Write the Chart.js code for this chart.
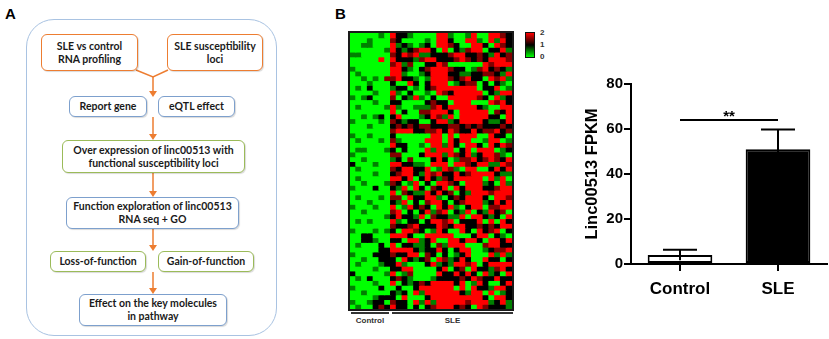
<!DOCTYPE html>
<html><head><meta charset="utf-8">
<script src="https://cdn.jsdelivr.net/npm/chart.js@4/dist/chart.umd.min.js"></script>
<style>
html,body{margin:0;padding:0;background:#fff;width:829px;height:339px;overflow:hidden;position:relative;font-family:'Liberation Sans',Arial,sans-serif}
.abs{position:absolute}
.plabel{position:absolute;font:bold 15px 'Liberation Sans',Arial,sans-serif;color:#000}
.outer{position:absolute;left:26px;top:19px;width:251px;height:317px;box-sizing:border-box;border:1.5px solid #a9c3e2;border-radius:28px}
.box{position:absolute;box-sizing:border-box;border:1.5px solid;border-radius:6px;background:#fff;display:flex;align-items:center;justify-content:center;text-align:center;font:bold 10.5px Lato,'Liberation Sans',sans-serif;line-height:13px;color:#1a1a1a;box-shadow:1px 1px 1px rgba(0,0,0,0.15)}
.or{border-color:#ed7d31}.bl{border-color:#7da0cd}.gr{border-color:#9bbb59}
.small{position:absolute;font:bold 8px 'Liberation Sans',Arial,sans-serif;color:#333}
</style></head>
<body>
<div class="plabel" style="left:5px;top:5px">A</div>
<div class="outer"></div>
<svg class="abs" style="left:0;top:0" width="300" height="339">
 <g stroke="#ed7d31" stroke-width="1.5" fill="none">
  <path d="M136 70 L153 77 L168 70"/>
  <path d="M153 77 L153 92"/>
  <path d="M153 117 L153 135"/>
  <path d="M153 173 L153 192"/>
  <path d="M153 229 L153 246"/>
  <path d="M153 272 L153 289"/>
 </g>
 <g fill="#ed7d31">
  <path d="M149 91 L157 91 L153 97 Z"/>
  <path d="M149 134 L157 134 L153 140 Z"/>
  <path d="M149 191 L157 191 L153 197 Z"/>
  <path d="M149 245 L157 245 L153 251 Z"/>
  <path d="M149 288 L157 288 L153 294 Z"/>
 </g>
</svg>
<div class="box or" style="left:41px;top:34px;width:97px;height:37px">SLE vs control<br>RNA profiling</div>
<div class="box or" style="left:167px;top:34px;width:96px;height:37px">SLE susceptibility<br>loci</div>
<div class="box bl" style="left:69px;top:96px;width:78px;height:21px">Report gene</div>
<div class="box bl" style="left:158px;top:96px;width:77px;height:21px">eQTL effect</div>
<div class="box gr" style="left:62px;top:140px;width:183px;height:33px">Over expression of linc00513 with<br>functional susceptibility loci</div>
<div class="box bl" style="left:66px;top:197px;width:173px;height:32px">Function exploration of linc00513<br>RNA seq + GO</div>
<div class="box gr" style="left:50px;top:251px;width:96px;height:21px">Loss-of-function</div>
<div class="box gr" style="left:158px;top:251px;width:96px;height:21px">Gain-of-function</div>
<div class="box bl" style="left:79px;top:294px;width:148px;height:32px">Effect on the key molecules<br>in pathway</div>

<div class="plabel" style="left:335px;top:5px">B</div>
<div class="abs" style="left:348px;top:31px;width:162px;height:276px;border:2px solid #1a1a1a"></div>
<canvas id="heat" class="abs" style="left:350px;top:33px" width="162" height="276"></canvas>
<div class="abs" id="cbar" style="left:525px;top:32px;width:8px;height:24px;border:1.5px solid #111;background:linear-gradient(to bottom,#ff0000 0%,#000 50%,#00ff00 100%)"></div>
<div id="cbticks"></div>
<div class="abs" style="left:351px;top:312px;width:38px;height:2px;background:#333"></div>
<div class="abs" style="left:392px;top:312px;width:121px;height:2px;background:#333"></div>
<div class="small" id="hg0" style="left:351px;top:316px;width:38px;text-align:center"></div>
<div class="small" id="hg1" style="left:392px;top:316px;width:121px;text-align:center"></div>

<canvas id="bar" class="abs" style="left:560px;top:60px" width="269" height="279"></canvas>

<script>
// ---------- Bar chart data ----------
const groups = ['Control', 'SLE'];
const means = [4.0, 51.0];
const sems = [2.3, 8.8];
const yTickMin = 0, yTickMax = 80, yTickStep = 20;
const yTitle = 'Linc00513 FPKM';
const sigLevel = 64;
const sigText = '**';

// ---------- Heatmap data (levels 0..4 -> value 0..2) ----------
const heatGroups = ['Control', 'SLE'];
const heatGroupSizes = [7, 21];
const colorbarTicks = ['2', '1', '0'];
const heatRows = [
"0000010422100004410014004432",
"0001000320000104420044104142",
"0011000412101204432004420432",
"0000001421234420402134402241",
"1100000324341122234422321423",
"0000040422213442223432324443",
"0000000341300224300000043444",
"1000000442102344432201342321",
"0100000441001244422112233214",
"0010103342210144432342204341",
"0001000200420244401233020210",
"0102000122010234444444022401",
"0000100410200104324444402144",
"1012000302141020044444320412",
"0000100220000232204440004342",
"0100001410011134244444210044",
"0000000402003344420444440324",
"0010120240001243140444442204",
"1000010321220024412444421124",
"0001000232323322233232322232",
"0000000344422334243224233423",
"1001000200000044040444004220",
"0100010310000444042440014401",
"0000000422001044142044204243",
"0110001202000414440240444012",
"1000000330002444143241244310",
"0010000120300024201334234324",
"2000100442211044404432441143",
"0100000324422401431044002424",
"0000100234421434224234444211",
"0100000442402421324444404140",
"0010001320140204432044412041",
"1000200214042032404244422344",
"0000000403211424230214443444",
"0100010330422441023244420443",
"0001000214020344202344412424",
"1000100401423204241024403344",
"0010000340202413402140214230",
"0000001242214032211404421204",
"0101000410220244340222404042",
"0000000322342224324422323244",
"1000101204432014200420423402",
"0022000444200444440002440210",
"0022100220441240044244204424",
"0100020402211203144400034422",
"0000022444421224202440012334",
"1000222322440320201240004141",
"0010022204212304312420042202",
"0100012241000241214434024444",
"0000100224400002402304221342",
"2000001401300004224242041204",
"0102000232100012222324322422",
"0000100402123244442401420024",
"1000020020024444440404221442",
"0010000212041444444214404012",
"0000122204000244444444420442",
"1001220322041414444434441241",
"0100232422020234442320432221"
];

Chart.defaults.font.family = "'Liberation Sans', Arial, sans-serif";
Chart.defaults.color = '#000';

function cellColor(level) {
  const v = level / 2;
  if (v <= 1) return 'rgb(0,' + Math.round(255 * (1 - v)) + ',0)';
  return 'rgb(' + Math.round(255 * (v - 1)) + ',0,0)';
}

// labels under heatmap and colorbar
document.getElementById('hg0').textContent = heatGroups[0];
document.getElementById('hg1').textContent = heatGroups[1];
(function(){
  const c = document.getElementById('cbticks');
  colorbarTicks.forEach((t, i) => {
    const d = document.createElement('div');
    d.className = 'small';
    d.style.left = '540px';
    d.style.top = (28 + i * 12) + 'px';
    d.textContent = t;
    c.appendChild(d);
  });
})();

// ---------- Heatmap ----------
const nCols = heatRows[0].length;
const heatLabels = Array.from({length: nCols}, (_, i) => String(i));
new Chart(document.getElementById('heat'), {
  type: 'bar',
  data: {
    labels: heatLabels,
    datasets: heatRows.map((row, ri) => ({
      label: 'row' + ri,
      data: row.split('').map(() => 1),
      backgroundColor: row.split('').map(ch => cellColor(+ch)),
      borderWidth: 0,
      barPercentage: 1,
      categoryPercentage: 1,
      inflateAmount: 0.5
    }))
  },
  options: {
    responsive: false, animation: false, devicePixelRatio: 1, events: [],
    layout: {padding: 0},
    plugins: {legend: {display: false}, tooltip: {enabled: false}},
    scales: {
      x: {stacked: true, display: false},
      y: {stacked: true, display: false, reverse: true, min: 0, max: heatRows.length}
    }
  }
});

// ---------- Bar chart ----------
const errPlugin = {
  id: 'errbars',
  afterDatasetsDraw(chart) {
    const {ctx, scales: {x, y}} = chart;
    ctx.save();
    ctx.strokeStyle = '#000';
    ctx.lineWidth = 2;
    means.forEach((m, i) => {
      const px = x.getPixelForValue(i);
      const top = y.getPixelForValue(m + sems[i]);
      const bot = y.getPixelForValue(m - sems[i]);
      ctx.beginPath();
      ctx.moveTo(px, bot); ctx.lineTo(px, top);
      ctx.moveTo(px - 17, top); ctx.lineTo(px + 17, top);
      ctx.stroke();
    });
    const sy = y.getPixelForValue(sigLevel);
    const x0 = x.getPixelForValue(0), x1 = x.getPixelForValue(1);
    ctx.beginPath(); ctx.moveTo(x0, sy); ctx.lineTo(x1, sy); ctx.stroke();
    ctx.fillStyle = '#000';
    ctx.font = "bold 15px 'Liberation Sans', Arial, sans-serif";
    ctx.textAlign = 'center';
    ctx.textBaseline = 'alphabetic';
    ctx.fillText(sigText, (x0 + x1) / 2, sy + 1);
    ctx.restore();
  }
};

new Chart(document.getElementById('bar'), {
  type: 'bar',
  data: {
    labels: groups,
    datasets: [{
      data: means,
      backgroundColor: ['#ffffff', '#000000'],
      borderColor: '#000',
      borderWidth: 2,
      borderSkipped: false,
      barPercentage: 0.66,
      categoryPercentage: 1
    }]
  },
  options: {
    responsive: false, animation: false, devicePixelRatio: 1, events: [],
    layout: {padding: {top: 24, right: 2, left: 0, bottom: 0}},
    plugins: {legend: {display: false}, tooltip: {enabled: false}},
    scales: {
      x: {
        grid: {display: true, drawOnChartArea: false, drawTicks: true, tickLength: 7, color: '#000', lineWidth: 2, offset: false},
        border: {display: true, color: '#000', width: 2},
        ticks: {font: {size: 17, weight: 'bold'}, padding: 8, color: '#000'},
        afterFit(s) { s.height = 75; }
      },
      y: {
        min: yTickMin, max: yTickMax,
        grid: {display: true, drawOnChartArea: false, drawTicks: true, tickLength: 7, color: '#000', lineWidth: 2},
        border: {display: true, color: '#000', width: 2},
        ticks: {stepSize: yTickStep, font: {size: 15, weight: 'bold'}, padding: 1, color: '#000'},
        title: {display: true, text: yTitle, font: {size: 16.5, weight: 'bold'}, color: '#000', padding: {top: 23, bottom: 0}},
        afterFit(s) { s.width = 71; }
      }
    }
  },
  plugins: [errPlugin]
});
</script>
</body></html>
